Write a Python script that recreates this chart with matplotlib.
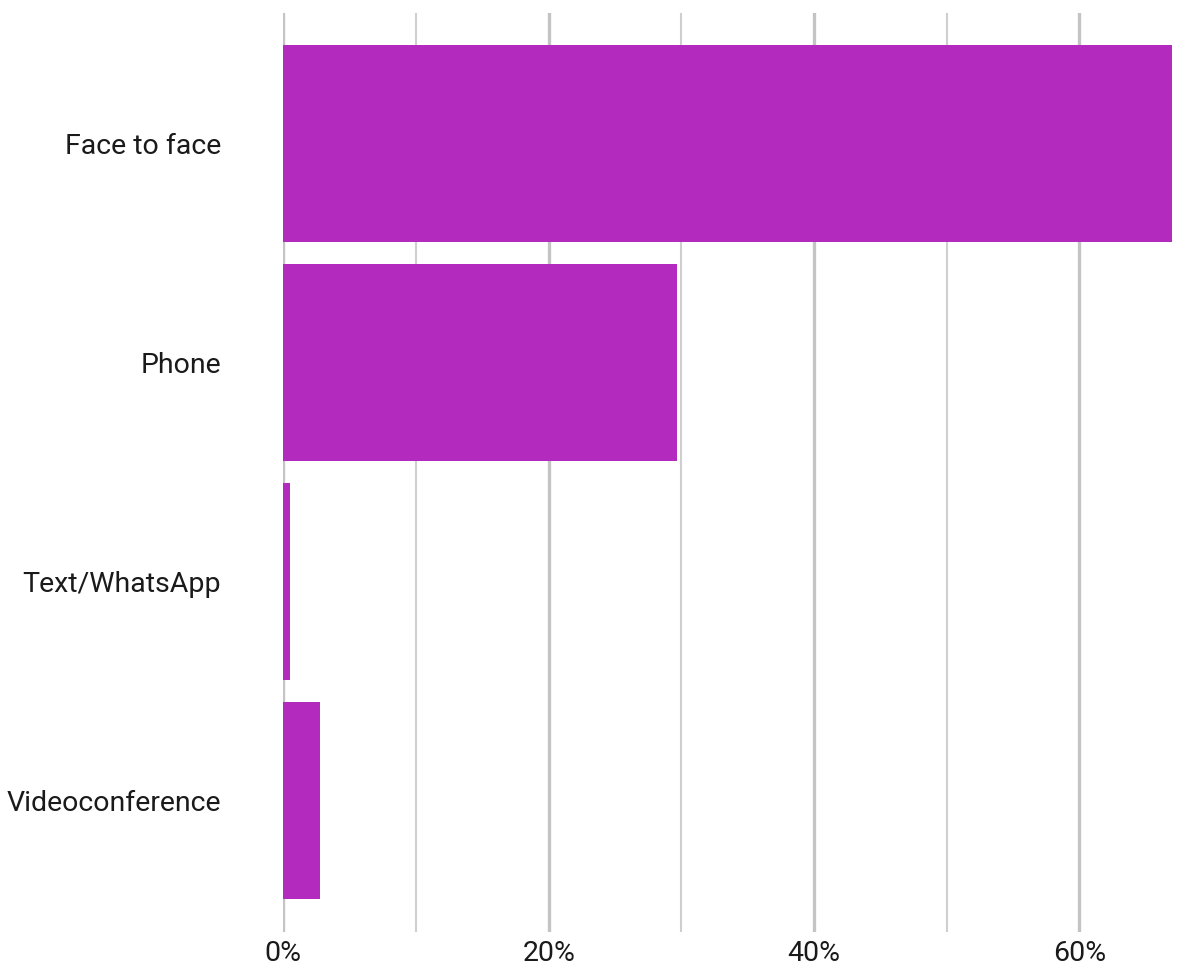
import matplotlib
matplotlib.use("Agg")
import matplotlib.pyplot as plt
from matplotlib.ticker import FixedLocator, FuncFormatter

categories = ["Face to face", "Phone", "Text/WhatsApp", "Videoconference"]
shares = [67.0, 29.7, 0.5, 2.8]
major_ticks = [0, 20, 40, 60]
minor_ticks = [10, 30, 50]

W, H = 1199, 972
fig = plt.figure(figsize=(W / 100, H / 100), dpi=100)
left_px, right_px, top_px, bottom_px = 283.3, 1185, 13, 932
ax = fig.add_axes([left_px / W, 1 - bottom_px / H,
                   (right_px - left_px) / W, (bottom_px - top_px) / H])

font = ["Roboto", "DejaVu Sans"]
bar_color = "#B32ABE"

ypos = list(range(len(categories)))
ax.barh(ypos, shares, height=0.9, color=bar_color, zorder=2)

px_per_unit = 13.27
ax.set_xlim(0, (right_px - left_px) / px_per_unit)
ax.set_ylim(3.6, -0.596)

for x in major_ticks:
    ax.axvline(x, color="#c4c4c4", lw=2.4, zorder=1)
for x in minor_ticks:
    ax.axvline(x, color="#cfcfcf", lw=1.5, zorder=1)

ax.xaxis.set_major_locator(FixedLocator(major_ticks))
ax.xaxis.set_major_formatter(FuncFormatter(lambda v, p: f"{v:.0f}%"))
ax.set_yticks(ypos)
ax.set_yticklabels(categories)

ax.tick_params(axis="both", length=0, labelsize=20.5, labelcolor="#1a1a1a")
ax.tick_params(axis="y", pad=45)
ax.tick_params(axis="x", pad=6)
for lab in ax.get_xticklabels() + ax.get_yticklabels():
    lab.set_family(font)

for s in ax.spines.values():
    s.set_visible(False)

fig.savefig("out.png", dpi=100, facecolor="white")
